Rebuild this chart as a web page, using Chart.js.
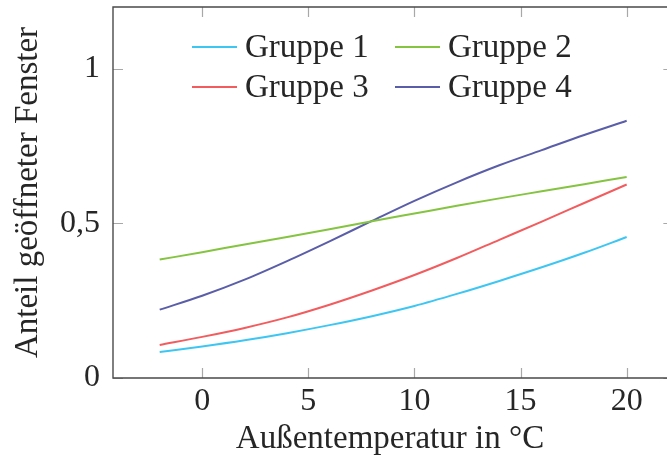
<!DOCTYPE html>
<html>
<head>
<meta charset="utf-8">
<script src="https://cdn.jsdelivr.net/npm/chart.js@4/dist/chart.umd.min.js"></script>
<style>
  html, body { margin: 0; padding: 0; background: #fff; overflow: hidden; }
  #wrap { width: 667px; height: 459px; }
</style>
</head>
<body>
<div id="wrap"><canvas id="c" width="667" height="459"></canvas></div>
<script>
const xValues = [-2, 0, 2, 4, 6, 8, 10, 12, 14, 16, 18, 20];
const gruppe1 = [0.084, 0.102, 0.122, 0.145, 0.171, 0.200, 0.233, 0.272, 0.314, 0.358, 0.405, 0.456];
const gruppe2 = [0.383, 0.407, 0.432, 0.456, 0.481, 0.507, 0.532, 0.557, 0.581, 0.604, 0.627, 0.650];
const gruppe3 = [0.107, 0.133, 0.162, 0.196, 0.237, 0.283, 0.333, 0.388, 0.447, 0.506, 0.566, 0.626];
const gruppe4 = [0.221, 0.266, 0.318, 0.378, 0.442, 0.508, 0.573, 0.633, 0.688, 0.737, 0.786, 0.832];
const seriesNames = ['Gruppe 1', 'Gruppe 2', 'Gruppe 3', 'Gruppe 4'];
const xTicks = [0, 5, 10, 15, 20];
const xTickLabels = ['0', '5', '10', '15', '20'];
const yTicks = [0, 0.5, 1];
const yTickLabels = ['0', '0,5', '1'];
const xTitle = 'Außentemperatur in °C';
const yTitle = 'Anteil geöffneter Fenster';

const colors = ['#3ec6f2', '#84c441', '#f25c5e', '#5a5ea8'];
const FONT = 'Liberation Serif';
const TEXT = '#262626';

const series = [gruppe1, gruppe2, gruppe3, gruppe4];
const datasets = series.map((vals, i) => ({
  label: seriesNames[i],
  data: xValues.map((x, j) => ({ x: x, y: vals[j] })),
  borderColor: colors[i],
  backgroundColor: colors[i],
  borderWidth: 2,
  pointRadius: 0,
  fill: false,
  cubicInterpolationMode: 'monotone'
}));

const framePlugin = {
  id: 'frame',
  beforeDatasetsDraw(chart) {
    const { ctx, chartArea: a, scales: { x, y } } = chart;
    const R = x.getPixelForValue(22.2);
    ctx.save();
    ctx.lineWidth = 1.2;
    ctx.strokeStyle = '#a8a8a8';
    ctx.beginPath();
    xTicks.forEach(v => {
      const p = Math.round(x.getPixelForValue(v)) + 0.5;
      ctx.moveTo(p, a.bottom); ctx.lineTo(p, a.bottom - 10);
      ctx.moveTo(p, a.top); ctx.lineTo(p, a.top + 10);
    });
    yTicks.forEach(v => {
      const p = Math.round(y.getPixelForValue(v)) + 0.5;
      ctx.moveTo(a.left, p); ctx.lineTo(a.left + 10, p);
      ctx.moveTo(R - 10, p); ctx.lineTo(R, p);
    });
    ctx.stroke();
    ctx.strokeStyle = '#4a4a4a';
    ctx.lineWidth = 1.4;
    ctx.beginPath();
    ctx.moveTo(a.right, a.top); ctx.lineTo(a.left, a.top);
    ctx.lineTo(a.left, a.bottom); ctx.lineTo(a.right, a.bottom);
    ctx.stroke();
    ctx.restore();
  }
};

const legendPlugin = {
  id: 'customLegend',
  afterDraw(chart) {
    const { ctx, chartArea: a } = chart;
    const cols = [a.left + 79, a.left + 282];
    const rows = [a.top + 40, a.top + 80];
    ctx.save();
    ctx.font = '33px "' + FONT + '"';
    ctx.textBaseline = 'middle';
    ctx.textAlign = 'left';
    chart.data.datasets.forEach((ds, i) => {
      const cx = cols[i % 2], cy = rows[Math.floor(i / 2)];
      ctx.strokeStyle = ds.borderColor;
      ctx.lineWidth = 2;
      ctx.beginPath();
      ctx.moveTo(cx, cy); ctx.lineTo(cx + 45, cy);
      ctx.stroke();
      ctx.fillStyle = TEXT;
      ctx.fillText(ds.label, cx + 53, cy + 1);
    });
    ctx.restore();
  }
};

function noPad(s) { s.paddingTop = 0; s.paddingBottom = 0; s.paddingLeft = 0; s.paddingRight = 0; }

new Chart(document.getElementById('c'), {
  type: 'line',
  data: { datasets: datasets },
  options: {
    responsive: false,
    animation: false,
    layout: { padding: { top: 7, left: 0, right: 0, bottom: 0 } },
    plugins: { legend: { display: false }, tooltip: { enabled: false } },
    scales: {
      x: {
        type: 'linear',
        min: -4.2,
        max: 21.9,
        grid: { display: false, drawTicks: false },
        border: { display: false },
        afterBuildTicks: s => { s.ticks = xTicks.map(v => ({ value: v })); },
        afterFit: s => { s.height = 81; noPad(s); },
        ticks: {
          padding: 4,
          maxRotation: 0,
          color: TEXT,
          font: { family: FONT, size: 32 },
          callback: v => xTickLabels[xTicks.indexOf(v)]
        },
        title: {
          display: true,
          text: xTitle,
          color: TEXT,
          font: { family: FONT, size: 33 },
          padding: { top: 0, bottom: 0 }
        }
      },
      y: {
        type: 'linear',
        min: 0,
        max: 1.2,
        grid: { display: false, drawTicks: false },
        border: { display: false },
        afterBuildTicks: s => { s.ticks = yTicks.map(v => ({ value: v })); },
        afterFit: s => { s.width = 113; noPad(s); },
        ticks: {
          padding: 13,
          color: TEXT,
          font: { family: FONT, size: 32 },
          callback: v => yTickLabels[yTicks.indexOf(v)]
        },
        title: {
          display: true,
          text: yTitle,
          color: TEXT,
          font: { family: FONT, size: 33 },
          padding: { top: 9, bottom: 0 }
        }
      }
    }
  },
  plugins: [framePlugin, legendPlugin]
});
</script>
</body>
</html>
